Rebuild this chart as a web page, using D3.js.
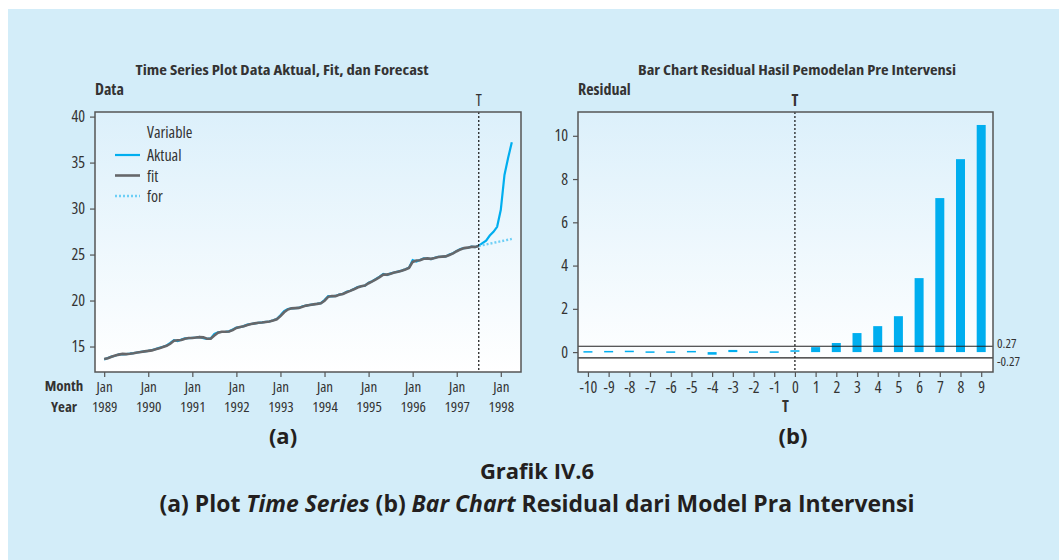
<!DOCTYPE html>
<html>
<head>
<meta charset="utf-8">
<script src="https://cdn.jsdelivr.net/npm/d3@7"></script>
<style>
body { margin: 0; background: #fff; }
svg text { font-family: "Open Sans", sans-serif; font-stretch: 75%; fill: #333; }
.cap text { font-family: "Open Sans", sans-serif; font-stretch: 100%; fill: #231f20; }
</style>
</head>
<body>
<svg id="chart" width="1059" height="560"></svg>
<script>
// ---- data (a): monthly series, index 0 = Jan 1989 ----
var yearLabels = ["1989", "1990", "1991", "1992", "1993", "1994", "1995", "1996", "1997", "1998"];
var monthLabel = "Jan";
var dataTicks = [15, 20, 25, 30, 35, 40];
var interventionMonth = 102; // Jul 1997 (T)

var aktual = [
  13.60, 13.75, 13.90, 14.00, 14.15, 14.15, 14.18, 14.22, 14.28, 14.35, 14.42, 14.48,
  14.52, 14.62, 14.72, 14.85, 14.97, 15.12, 15.40, 15.70, 15.60, 15.75, 15.88, 15.90,
  15.94, 15.98, 16.05, 15.90, 15.83, 15.88, 16.38, 16.55, 16.58, 16.60, 16.65, 16.85,
  17.07, 17.10, 17.22, 17.38, 17.45, 17.52, 17.57, 17.62, 17.68, 17.72, 17.85, 18.00,
  18.40, 18.85, 19.08, 19.15, 19.17, 19.20, 19.38, 19.45, 19.52, 19.58, 19.65, 19.72,
  20.05, 20.48, 20.45, 20.50, 20.66, 20.72, 20.95, 21.06, 21.25, 21.48, 21.55, 21.62,
  21.95, 22.10, 22.35, 22.60, 22.88, 22.77, 22.95, 23.05, 23.15, 23.25, 23.40, 23.57,
  24.40, 24.25, 24.40, 24.58, 24.55, 24.50, 24.65, 24.76, 24.75, 24.80, 25.00, 25.15,
  25.40, 25.60, 25.70, 25.74, 25.85, 25.80, 25.98, 26.25, 26.52, 27.07, 27.47, 28.02,
  29.86, 33.65, 35.53, 37.20
];

var fit = [
  13.65, 13.72, 13.88, 14.02, 14.12, 14.20, 14.17, 14.21, 14.27, 14.34, 14.41, 14.47,
  14.53, 14.58, 14.70, 14.80, 14.95, 15.08, 15.30, 15.62, 15.68, 15.70, 15.85, 15.92,
  15.93, 15.98, 16.02, 16.00, 15.85, 15.86, 16.20, 16.50, 16.60, 16.60, 16.64, 16.78,
  17.02, 17.12, 17.20, 17.35, 17.45, 17.52, 17.58, 17.62, 17.67, 17.72, 17.82, 17.96,
  18.30, 18.72, 19.02, 19.15, 19.18, 19.20, 19.33, 19.45, 19.52, 19.58, 19.64, 19.71,
  19.98, 20.40, 20.50, 20.48, 20.62, 20.72, 20.90, 21.05, 21.22, 21.42, 21.55, 21.62,
  21.88, 22.08, 22.30, 22.55, 22.82, 22.82, 22.92, 23.04, 23.14, 23.24, 23.38, 23.54,
  24.20, 24.35, 24.38, 24.55, 24.58, 24.53, 24.62, 24.74, 24.77, 24.80, 24.96, 25.12,
  25.36, 25.56, 25.70, 25.75, 25.83, 25.83, 25.92
];

// forecast starts at T
var forecast = [25.93, 26.02, 26.10, 26.19, 26.27, 26.36, 26.44, 26.53, 26.61, 26.70];

// ---- data (b): residual by lag around T ----
var lags = [-10, -9, -8, -7, -6, -5, -4, -3, -2, -1, 0, 1, 2, 3, 4, 5, 6, 7, 8, 9];
var residuals = [0.01, 0.02, 0.03, -0.01, -0.01, 0.02, -0.12, 0.10, -0.06, -0.01,
                 0.05, 0.23, 0.42, 0.88, 1.20, 1.66, 3.42, 7.12, 8.92, 10.50];
var residTicks = [0, 2, 4, 6, 8, 10];
var bound = 0.27;

var blue = "#00aeef", grey = "#66676a", lightBlue = "#6dcff6";
var FS = "16px", FX = "15px";

var svg = d3.select("#chart");

// panel background
svg.append("rect").attr("x", 8).attr("y", 9).attr("width", 1051).attr("height", 551).attr("fill", "#d3edf9");

var defs = svg.append("defs");
var grad = defs.append("linearGradient").attr("id", "plotbg").attr("x1", 0).attr("y1", 0).attr("x2", 0).attr("y2", 1);
grad.append("stop").attr("offset", "0%").attr("stop-color", "#dcf0fb");
grad.append("stop").attr("offset", "100%").attr("stop-color", "#ffffff");

function frame(x0, y0, x1, y1) {
    svg.append("rect")
        .attr("x", x0).attr("y", y0)
        .attr("width", x1 - x0).attr("height", y1 - y0)
        .attr("fill", "url(#plotbg)");
}
function border(x0, y0, x1, y1) {
    svg.append("rect")
        .attr("x", x0).attr("y", y0)
        .attr("width", x1 - x0).attr("height", y1 - y0)
        .attr("fill", "none").attr("stroke", "#555").attr("stroke-width", 1.5);
}
function styleAxis(g, size) {
    g.select(".domain").remove();
    g.selectAll(".tick line").attr("stroke", "#555").attr("stroke-width", 1.2);
    g.selectAll(".tick text").attr("fill", "#333").style("font-size", size)
        .style("font-family", "'Open Sans', sans-serif").style("font-stretch", "75%");
}

// ================= chart (a) =================
var A = { x0: 95, x1: 521, y0: 112, y1: 372 };
frame(A.x0, A.y0, A.x1, A.y1);

var xA = d3.scaleLinear().domain([-2.5, 113.5]).range([A.x0, A.x1]);
var yA = d3.scaleLinear().domain([12.23, 40.5]).range([A.y1, A.y0]);

var line = d3.line()
    .x(function(d) { return xA(d.i); })
    .y(function(d) { return yA(d.v); });

var aktualPts = aktual.map(function(v, i) { return { i: i, v: v }; });
var fitPts = fit.map(function(v, i) { return { i: i, v: v }; });
var forPts = forecast.map(function(v, k) { return { i: interventionMonth + k, v: v }; });

svg.append("path").datum(aktualPts).attr("d", line)
    .attr("fill", "none").attr("stroke", blue).attr("stroke-width", 2.2);
svg.append("path").datum(fitPts).attr("d", line)
    .attr("fill", "none").attr("stroke", grey).attr("stroke-width", 2.6);
svg.append("path").datum(forPts).attr("d", line)
    .attr("fill", "none").attr("stroke", lightBlue).attr("stroke-width", 2.4)
    .attr("stroke-dasharray", "2,2");

// T line
svg.append("line")
    .attr("x1", xA(interventionMonth)).attr("x2", xA(interventionMonth))
    .attr("y1", A.y0).attr("y2", A.y1)
    .attr("stroke", "#111").attr("stroke-width", 1.2).attr("stroke-dasharray", "2,2");
svg.append("text").attr("x", xA(interventionMonth)).attr("y", 106)
    .attr("text-anchor", "middle").style("font-size", FS).text("T");

border(A.x0, A.y0, A.x1, A.y1);

var yAxisA = svg.append("g").attr("transform", "translate(" + A.x0 + ",0)")
    .call(d3.axisLeft(yA).tickValues(dataTicks).tickSize(5).tickPadding(5));
styleAxis(yAxisA, FS);

var janIdx = yearLabels.map(function(y, k) { return k * 12; });
var xAxisA = svg.append("g").attr("transform", "translate(0," + A.y1 + ")")
    .call(d3.axisBottom(xA).tickValues(janIdx).tickSize(5).tickFormat(function() { return monthLabel; }).tickPadding(4));
styleAxis(xAxisA, FX);
xAxisA.selectAll(".tick").append("text")
    .attr("y", 40).attr("fill", "#333").attr("text-anchor", "middle")
    .style("font-size", FX).style("font-stretch", "75%")
    .style("font-family", "'Open Sans', sans-serif")
    .text(function(d, k) { return yearLabels[k]; });

svg.append("text").attr("x", 64).attr("y", 391).attr("text-anchor", "middle")
    .style("font-size", FX).style("font-weight", "bold").text("Month");
svg.append("text").attr("x", 64).attr("y", 412).attr("text-anchor", "middle")
    .style("font-size", FX).style("font-weight", "bold").text("Year");

svg.append("text").attr("x", 282).attr("y", 75).attr("text-anchor", "middle")
    .attr("textLength", 293).attr("lengthAdjust", "spacingAndGlyphs")
    .style("font-size", "15px").style("font-weight", "bold")
    .text("Time Series Plot Data Aktual, Fit, dan Forecast");
svg.append("text").attr("x", 95).attr("y", 95)
    .style("font-size", FS).style("font-weight", "bold").text("Data");

// legend
var legendItems = [
    { name: "Aktual", color: blue, w: 2.2, dash: null },
    { name: "fit", color: grey, w: 2.6, dash: null },
    { name: "for", color: lightBlue, w: 2.4, dash: "2,2" }
];
svg.append("text").attr("x", 147).attr("y", 138).style("font-size", FS).text("Variable");
legendItems.forEach(function(d, k) {
    var y = 155 + k * 20.5;
    svg.append("line").attr("x1", 115).attr("x2", 140).attr("y1", y).attr("y2", y)
        .attr("stroke", d.color).attr("stroke-width", d.w).attr("stroke-dasharray", d.dash);
    svg.append("text").attr("x", 147).attr("y", y + 6).style("font-size", FS).text(d.name);
});

// ================= chart (b) =================
var B = { x0: 578, x1: 993, y0: 112, y1: 372 };
frame(B.x0, B.y0, B.x1, B.y1);

var xB = d3.scaleLinear().domain([-10.48, 9.57]).range([B.x0, B.x1]);
var yB = d3.scaleLinear().domain([-0.92, 11.1]).range([B.y1, B.y0]);
var barW = 9;

// white area below the lower bound
svg.append("rect").attr("x", B.x0).attr("y", yB(-bound))
    .attr("width", B.x1 - B.x0).attr("height", B.y1 - yB(-bound)).attr("fill", "#fff");

svg.selectAll(".bar").data(lags).enter().append("rect")
    .attr("class", "bar")
    .attr("x", function(d) { return xB(d) - barW / 2; })
    .attr("y", function(d, k) { return Math.min(yB(0), yB(residuals[k])) - (Math.abs(yB(residuals[k]) - yB(0)) < 1.5 ? 0.75 : 0); })
    .attr("width", barW)
    .attr("height", function(d, k) { return Math.max(1.5, Math.abs(yB(residuals[k]) - yB(0))); })
    .attr("fill", blue);

[bound, -bound].forEach(function(b) {
    svg.append("line").attr("x1", B.x0).attr("x2", B.x1).attr("y1", yB(b)).attr("y2", yB(b))
        .attr("stroke", "#222").attr("stroke-width", 1.2);
    svg.append("text").attr("x", B.x1 + 4).attr("y", b > 0 ? 348 : 366)
        .style("font-size", "13px").text(b.toFixed(2));
});

svg.append("line")
    .attr("x1", xB(0)).attr("x2", xB(0)).attr("y1", B.y0).attr("y2", B.y1)
    .attr("stroke", "#111").attr("stroke-width", 1.2).attr("stroke-dasharray", "2,2");

border(B.x0, B.y0, B.x1, B.y1);

var yAxisB = svg.append("g").attr("transform", "translate(" + B.x0 + ",0)")
    .call(d3.axisLeft(yB).tickValues(residTicks).tickSize(5).tickPadding(5));
styleAxis(yAxisB, FS);
var xAxisB = svg.append("g").attr("transform", "translate(0," + B.y1 + ")")
    .call(d3.axisBottom(xB).tickValues(lags).tickSize(5).tickPadding(5).tickFormat(function(d) { return String(d); }));
styleAxis(xAxisB, FS);

svg.append("text").attr("x", xB(0)).attr("y", 106).attr("text-anchor", "middle")
    .style("font-size", FS).style("font-weight", "bold").text("T");
svg.append("text").attr("x", (B.x0 + B.x1) / 2).attr("y", 412).attr("text-anchor", "middle")
    .style("font-size", FS).style("font-weight", "bold").text("T");
svg.append("text").attr("x", 797).attr("y", 75).attr("text-anchor", "middle")
    .attr("textLength", 318).attr("lengthAdjust", "spacingAndGlyphs")
    .style("font-size", "15px").style("font-weight", "bold")
    .text("Bar Chart Residual Hasil Pemodelan Pre Intervensi");
svg.append("text").attr("x", 578).attr("y", 95)
    .style("font-size", FS).style("font-weight", "bold").text("Residual");

// ================= captions =================
var cap = svg.append("g").attr("class", "cap");
cap.append("text").attr("x", 283).attr("y", 444).attr("text-anchor", "middle")
    .style("font-size", "22px").style("font-weight", "bold").text("(a)");
cap.append("text").attr("x", 793).attr("y", 444).attr("text-anchor", "middle")
    .style("font-size", "22px").style("font-weight", "bold").text("(b)");
cap.append("text").attr("x", 537).attr("y", 479).attr("text-anchor", "middle")
    .style("font-size", "22px").style("font-weight", "bold").text("Grafik IV.6");
var sub = cap.append("text").attr("x", 537).attr("y", 512).attr("text-anchor", "middle")
    .attr("textLength", 755).attr("lengthAdjust", "spacingAndGlyphs")
    .style("font-size", "22.5px").style("font-weight", "bold");
[["(a) Plot ", false], ["Time Series", true], [" (b) ", false], ["Bar Chart", true],
 [" Residual dari Model Pra Intervensi", false]].forEach(function(p) {
    sub.append("tspan").style("font-style", p[1] ? "italic" : "normal").text(p[0]);
});
</script>
</body>
</html>
